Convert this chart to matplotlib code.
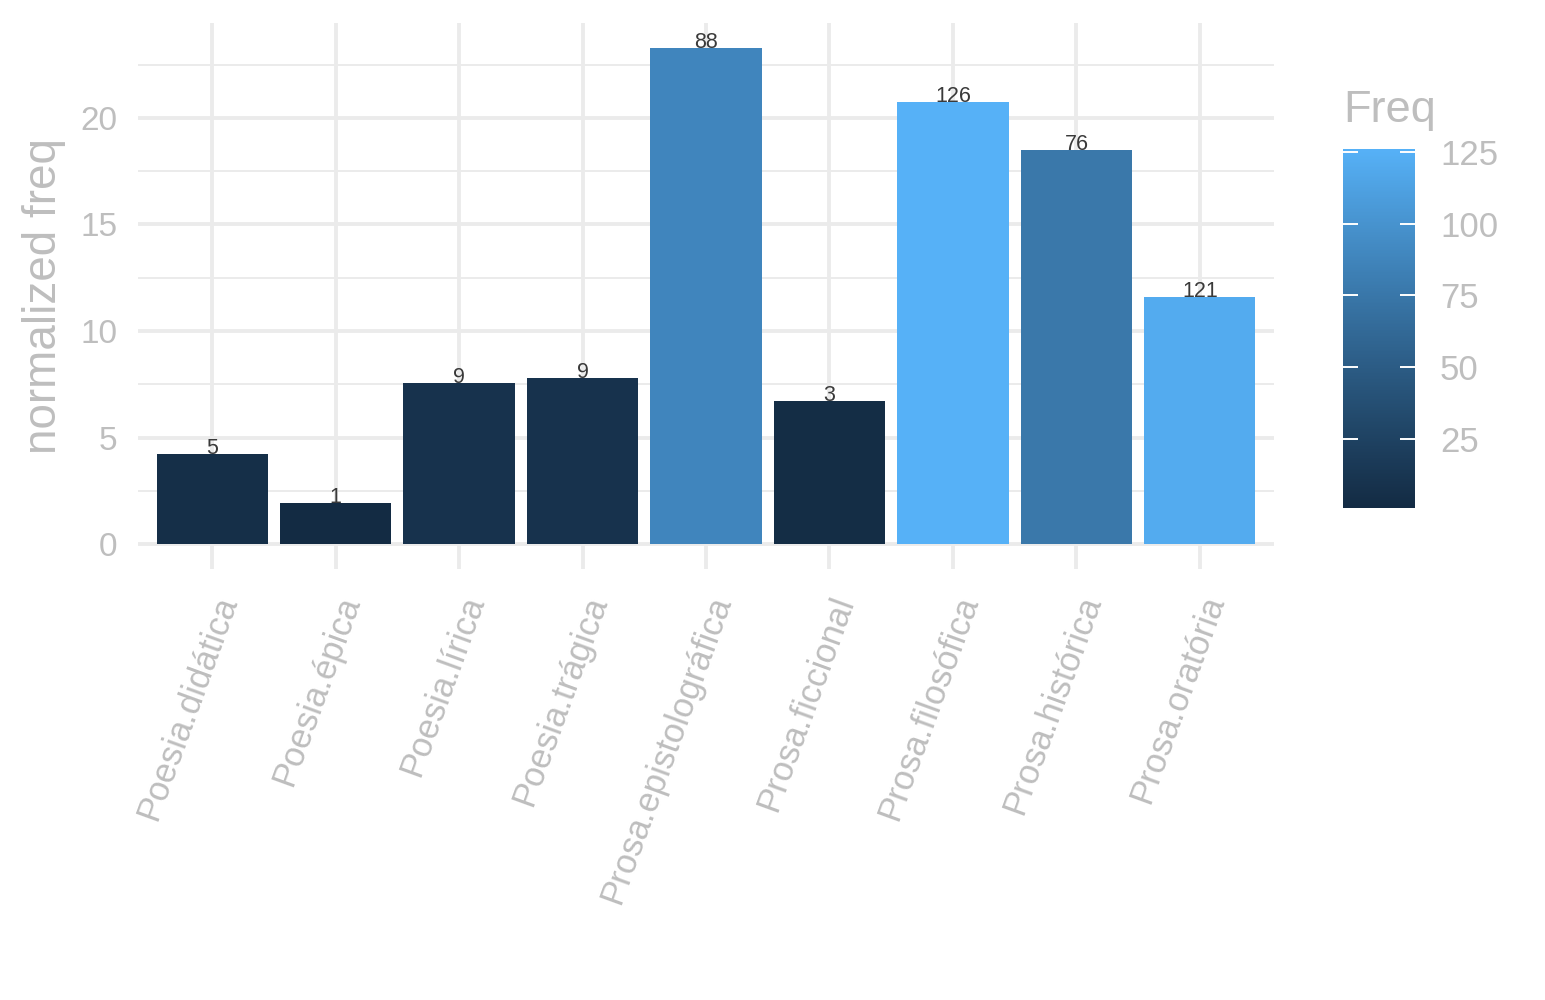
import numpy as np
import matplotlib
matplotlib.use('Agg')
import matplotlib.pyplot as plt
from matplotlib.colors import ListedColormap, Normalize
from matplotlib.cm import ScalarMappable

plt.rcParams['font.family'] = ['Liberation Sans', 'DejaVu Sans']

# data
genres = ['Poesia.didática', 'Poesia.épica', 'Poesia.lírica', 'Poesia.trágica',
          'Prosa.epistolográfica', 'Prosa.ficcional', 'Prosa.filosófica',
          'Prosa.histórica', 'Prosa.oratória']
norm_freq = [4.23, 1.92, 7.56, 7.79, 23.29, 6.71, 20.75, 18.50, 11.60]
freq = [5, 1, 9, 9, 88, 3, 126, 76, 121]
cbar_ticks = [25, 50, 75, 100, 125]

GRAY = '#BEBEBE'
GRID = '#EBEBEB'


# ggplot-like gradient (#132B43 -> #56B1F7) interpolated in Lab space
def _srgb2lab(rgb):
    c = np.asarray(rgb, float)
    lin = np.where(c <= 0.04045, c / 12.92, ((c + 0.055) / 1.055) ** 2.4)
    M = np.array([[0.4124564, 0.3575761, 0.1804375],
                  [0.2126729, 0.7151522, 0.0721750],
                  [0.0193339, 0.1191920, 0.9503041]])
    xyz = M @ lin / np.array([0.95047, 1.0, 1.08883])
    f = np.where(xyz > 216 / 24389, np.cbrt(xyz), (24389 / 27 * xyz + 16) / 116)
    return np.array([116 * f[1] - 16, 500 * (f[0] - f[1]), 200 * (f[1] - f[2])])


def _lab2srgb(lab):
    L, a, b = lab
    fy = (L + 16) / 116
    fx, fz = fy + a / 500, fy - b / 200
    f = np.array([fx, fy, fz])
    xyz = np.where(f ** 3 > 216 / 24389, f ** 3, (116 * f - 16) / (24389 / 27))
    xyz = xyz * np.array([0.95047, 1.0, 1.08883])
    Mi = np.array([[3.2404542, -1.5371385, -0.4985314],
                   [-0.9692660, 1.8760108, 0.0415560],
                   [0.0556434, -0.2040259, 1.0572252]])
    lin = Mi @ xyz
    c = np.where(lin <= 0.0031308, 12.92 * lin, 1.055 * np.clip(lin, 0, None) ** (1 / 2.4) - 0.055)
    return np.clip(c, 0, 1)


lo = _srgb2lab(matplotlib.colors.to_rgb('#132B43'))
hi = _srgb2lab(matplotlib.colors.to_rgb('#56B1F7'))
cmap = ListedColormap([_lab2srgb(lo + t * (hi - lo)) for t in np.linspace(0, 1, 256)])
norm = Normalize(vmin=min(freq), vmax=max(freq))

fig = plt.figure(figsize=(15.45, 10), dpi=100)
ax = fig.add_axes([138 / 1545, 0.431, (1274 - 138) / 1545, 0.546])

x = np.arange(len(genres))
ax.bar(x, norm_freq, width=0.9, color=cmap(norm(freq)), zorder=2)
for xi, v, f in zip(x, norm_freq, freq):
    ax.text(xi, v, str(f), ha='center', va='baseline', fontsize=15.5,
            color='#3A3A3A', zorder=3)

ymax = max(norm_freq)
ax.set_xlim(-0.6, len(genres) - 0.4)
ax.set_ylim(-0.05 * ymax, 1.05 * ymax)
ax.set_yticks([0, 5, 10, 15, 20])
ax.set_yticks([2.5, 7.5, 12.5, 17.5, 22.5], minor=True)
ax.set_xticks(x)
ax.set_xticklabels(genres, rotation=70, ha='right', va='top', rotation_mode='anchor')
ax.grid(which='major', color=GRID, lw=2.8, zorder=0)
ax.grid(which='minor', axis='y', color=GRID, lw=1.4, zorder=0)
for s in ax.spines.values():
    s.set_visible(False)
ax.tick_params(which='both', length=0)
ax.tick_params(axis='y', labelsize=24, labelcolor=GRAY, pad=15)
ax.tick_params(axis='x', labelsize=25, labelcolor=GRAY, pad=16)
fig.text(44 / 1545, 0.704, 'normalized freq', rotation=90, ha='center', va='center',
         fontsize=33, color=GRAY)

# colour bar legend
cax = fig.add_axes([1343 / 1545, 0.492, 72 / 1545, 0.359])
cb = fig.colorbar(ScalarMappable(norm=norm, cmap=cmap), cax=cax, ticks=cbar_ticks)
cb.outline.set_visible(False)
cax.tick_params(direction='in', length=11, width=1.4, color='white',
                left=True, right=True, labelsize=25, labelcolor=GRAY, pad=18)
fig.text(1343 / 1545, 1 - 122 / 1000, 'Freq', ha='left', va='baseline',
         fontsize=32.5, color=GRAY)

fig.savefig('out.png', dpi=100)
